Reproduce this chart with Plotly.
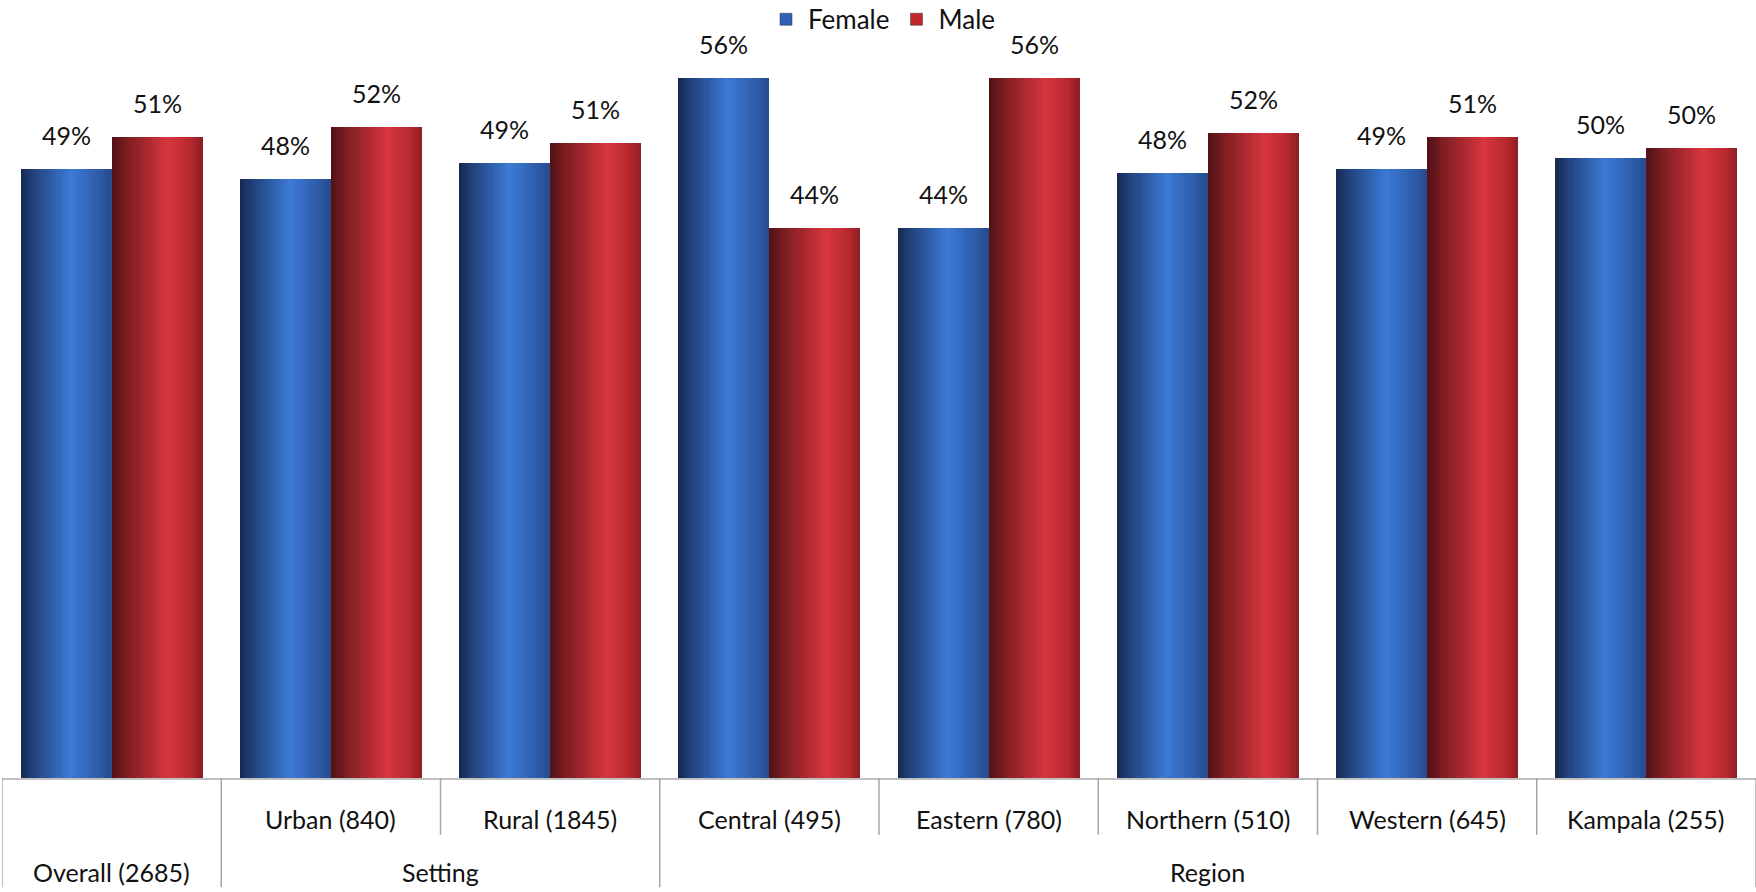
import numpy as np
import plotly.graph_objects as go

# data
categories = ["Overall (2685)", "Urban (840)", "Rural (1845)", "Central (495)",
              "Eastern (780)", "Northern (510)", "Western (645)", "Kampala (255)"]
groups = ["", "Setting", "Setting", "Region", "Region", "Region", "Region", "Region"]
female = [48.7, 47.9, 49.2, 56.0, 44.0, 48.4, 48.7, 49.6]
male = [51.3, 52.1, 50.8, 44.0, 56.0, 51.6, 51.3, 50.4]

FONT = "Lato, 'Open Sans', sans-serif"
N_STRIPS = 28
BAR_W = 0.415

# horizontal shading stops (position across bar, rgb) to fake the cylinder look
series = [
    ("Female", female, -1, [(0.0, (22, 40, 78)), (0.12, (32, 62, 118)), (0.55, (60, 122, 214)),
                            (0.85, (46, 92, 170)), (1.0, (38, 74, 140))], "#2f62b4"),
    ("Male", male, 0, [(0.0, (80, 18, 22)), (0.15, (120, 28, 32)), (0.62, (216, 54, 62)),
                       (0.88, (180, 40, 46)), (1.0, (140, 30, 36))], "#c0282e"),
]


def shade(stops, t):
    pos = [s[0] for s in stops]
    rgb = [np.interp(t, pos, [s[1][c] for s in stops]) for c in range(3)]
    return "rgb(%d,%d,%d)" % tuple(int(round(v)) for v in rgb)


x = list(range(len(categories)))
fig = go.Figure()

for name, vals, side, stops, legend_color in series:
    sw = BAR_W / N_STRIPS
    for k in range(N_STRIPS):
        t = (k + 0.5) / N_STRIPS
        fig.add_trace(go.Bar(
            x=x, y=vals,
            offset=side * BAR_W + k * sw, width=sw * 1.02,
            marker=dict(color=shade(stops, t), line=dict(width=0)),
            showlegend=False, hoverinfo="skip", legendgroup=name,
        ))
    # legend entry
    fig.add_trace(go.Bar(
        x=[None], y=[None], name=name, legendgroup=name,
        marker=dict(color=legend_color, line=dict(color="#333", width=0.5)),
    ))
    # value labels
    for xi, v in zip(x, vals):
        fig.add_annotation(
            x=xi + (side + 0.5) * BAR_W, y=v, text=f"{v:.0f}%",
            showarrow=False, yanchor="bottom", yshift=17,
            font=dict(family=FONT, size=25, color="#111"),
        )

# category labels (inner row) and group labels (outer row)
ROW1, ROW2 = -0.0556, -0.1274
LBL = dict(family=FONT, size=25, color="#111")
for xi, cat, grp in zip(x, categories, groups):
    fig.add_annotation(x=xi, y=ROW1 if grp else ROW2, yref="paper", text=cat,
                       showarrow=False, yanchor="middle", font=LBL)

for grp in ["Setting", "Region"]:
    idx = [i for i, g in enumerate(groups) if g == grp]
    fig.add_annotation(x=(idx[0] + idx[-1]) / 2, y=ROW2, yref="paper", text=grp,
                       showarrow=False, yanchor="middle", font=LBL)

# divider lines below the axis
for i in range(len(categories) + 1):
    bx = i - 0.5
    left = groups[i - 1] if i > 0 else None
    right = groups[i] if i < len(groups) else None
    full = (left != right) or left == ""
    fig.add_shape(type="line", xref="x", yref="paper", x0=bx, x1=bx,
                  y0=0, y1=-0.148 if full else -0.077,
                  line=dict(color="#a6a6a6", width=1.5))

fig.update_layout(
    width=1756, height=892,
    margin=dict(l=2, r=0, t=40, b=114, autoexpand=False),
    paper_bgcolor="white", plot_bgcolor="white",
    barmode="overlay", bargap=0,
    font=dict(family=FONT, size=25, color="#111"),
    showlegend=True,
    legend=dict(orientation="h", x=0.502, xanchor="center", y=1.028, yanchor="middle",
                font=dict(family=FONT, size=26, color="#111"), itemwidth=34,
                bgcolor="rgba(0,0,0,0)"),
    xaxis=dict(range=[-0.5, 7.5], showticklabels=False, ticks="", showgrid=False,
               zeroline=False, showline=True, linecolor="#c0c0c0", linewidth=2),
    yaxis=dict(range=[0, 59.04], visible=False, showgrid=False, zeroline=False),
)

# page body margin would push the figure 8px off; drop it
fig.write_html("out.html", config={"displayModeBar": False},
               post_script="document.body.style.margin='0';")
